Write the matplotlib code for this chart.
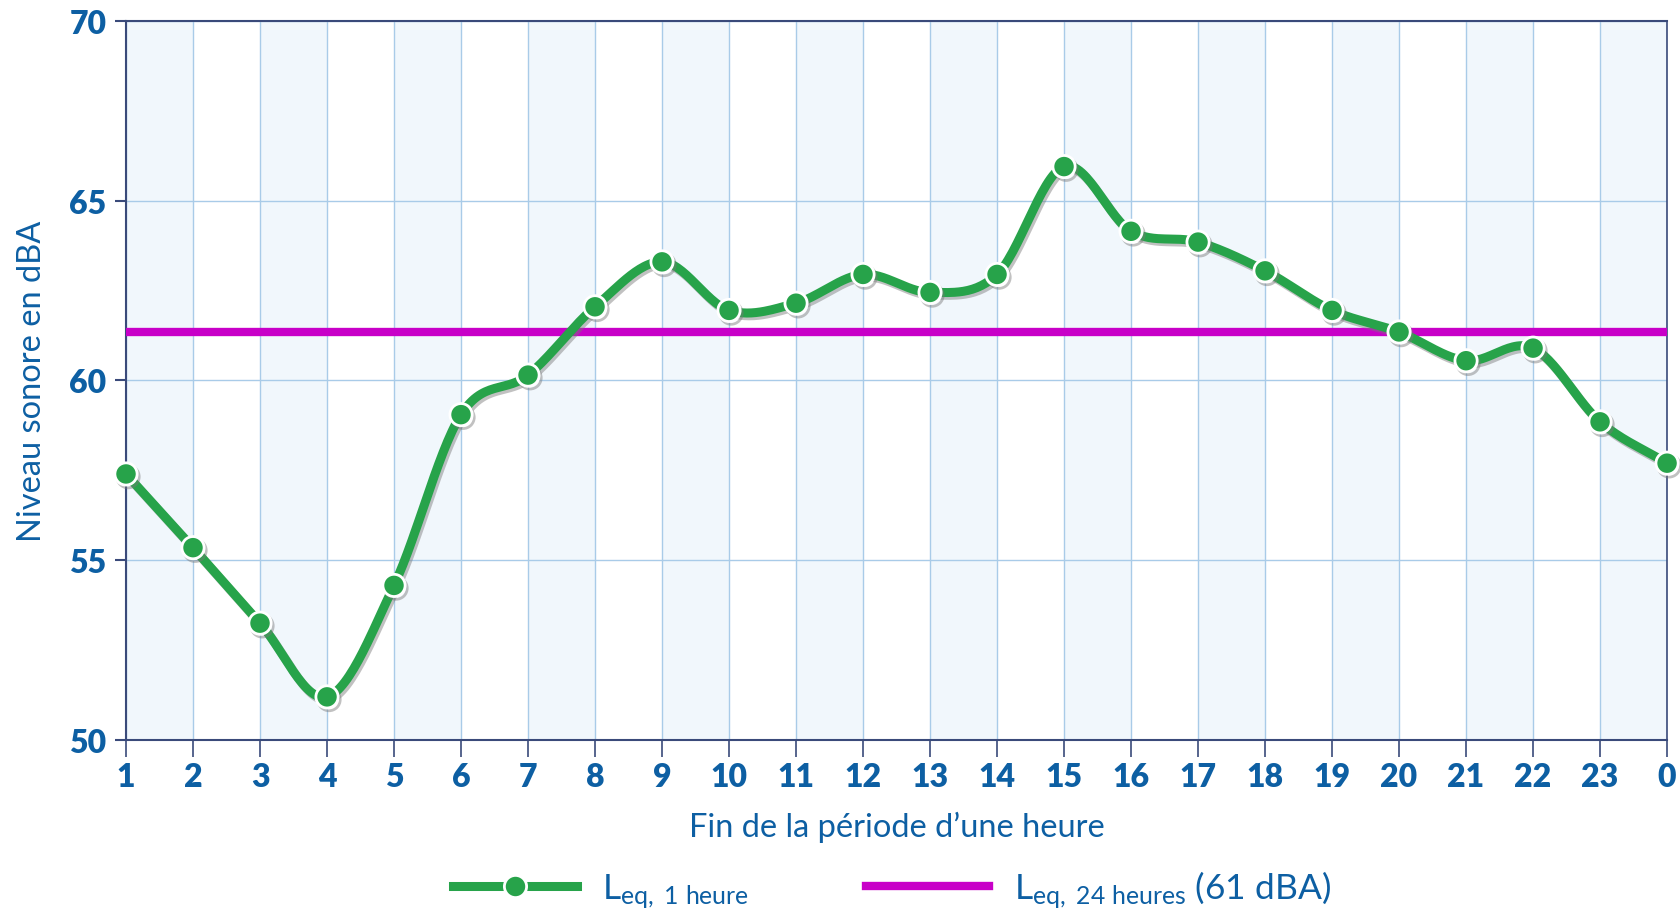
"""
Niveau sonore horaire (Leq 1 h) vs Leq 24 h.
"""
import numpy as np
import matplotlib
matplotlib.use("Agg")
import matplotlib.pyplot as plt
import matplotlib.patheffects as pe
from matplotlib.lines import Line2D

plt.rcParams["font.family"] = ["Lato", "DejaVu Sans"]
plt.rcParams["mathtext.fontset"] = "custom"
plt.rcParams["mathtext.rm"] = "Lato"
plt.rcParams["mathtext.it"] = "Lato"

hour_labels = ["1", "2", "3", "4", "5", "6", "7", "8", "9", "10", "11", "12",
               "13", "14", "15", "16", "17", "18", "19", "20", "21", "22", "23", "0"]
leq_1h = [57.4, 55.35, 53.25, 51.2, 54.3, 59.05, 60.15, 62.05, 63.3, 61.95, 62.15, 62.95,
          62.45, 62.95, 65.95, 64.15, 63.85, 63.05, 61.95, 61.35, 60.55, 60.9, 58.85, 57.7]
leq_24h = 61.35

BLUE = "#0d5fa3"
GREEN = "#27a34a"
PURPLE = "#c800c8"
AXIS = "#3a4a7a"
GRID = "#a9cbe8"


def smooth(x, y, n=30, tension=0.5):
    # cardinal spline through the points, just for drawing the curve
    x = np.asarray(x, float)
    y = np.asarray(y, float)
    xs, ys = [], []
    for i in range(len(x) - 1):
        y0 = y[i - 1] if i > 0 else y[i]
        y3 = y[i + 2] if i + 2 < len(y) else y[i + 1]
        m1 = tension * (y[i + 1] - y0) / (2 if i > 0 else 1)
        m2 = tension * (y3 - y[i]) / (2 if i + 2 < len(y) else 1)
        t = np.linspace(0, 1, n, endpoint=False)
        h00 = 2 * t**3 - 3 * t**2 + 1
        h10 = t**3 - 2 * t**2 + t
        h01 = -2 * t**3 + 3 * t**2
        h11 = t**3 - t**2
        xs.append(x[i] + t * (x[i + 1] - x[i]))
        ys.append(h00 * y[i] + h10 * m1 * 2 + h01 * y[i + 1] + h11 * m2 * 2)
    xs.append([x[-1]])
    ys.append([y[-1]])
    return np.concatenate(xs), np.concatenate(ys)


x = np.arange(1, len(hour_labels) + 1)

fig = plt.figure(figsize=(16.8, 9.12), dpi=100)
ax = fig.add_axes([0.075, 0.1875, 0.9173, 0.7884])

# alternating light-blue bands
for i in range(0, len(x) - 1, 2):
    ax.axvspan(x[i], x[i + 1], color="#f1f7fc", zorder=0, lw=0)

ax.set_xlim(x[0], x[-1])
ax.set_ylim(50, 70)
ax.set_xticks(x)
ax.set_xticklabels(hour_labels)
ax.set_yticks([50, 55, 60, 65, 70])
ax.grid(True, color=GRID, lw=1, zorder=1)

for s in ax.spines.values():
    s.set_color(AXIS)
    s.set_linewidth(1.5)
ax.spines["right"].set_linewidth(1.2)

ax.tick_params(axis="x", length=12, width=1.2, color=AXIS, pad=4,
               labelsize=23, labelcolor=BLUE)
ax.tick_params(axis="y", length=8, width=1.5, color=AXIS, pad=6,
               labelsize=23, labelcolor=BLUE)
for lbl in ax.get_xticklabels() + ax.get_yticklabels():
    lbl.set_fontweight("heavy")

ax.axhline(leq_24h, color=PURPLE, lw=6, zorder=3)

shadow = [pe.SimpleLineShadow(offset=(1.5, -2), shadow_color="#777777", alpha=0.45),
          pe.Normal()]
sx, sy = smooth(x, leq_1h)
ax.plot(sx, sy, color=GREEN, lw=6.5, solid_capstyle="round", zorder=4,
        path_effects=shadow)
ax.plot(x, leq_1h, ls="none", marker="o", ms=16, mfc=GREEN, mec="white", mew=2,
        zorder=5, clip_on=False,
        path_effects=[pe.SimpleLineShadow(offset=(1.5, -2), shadow_color="#777777",
                                          alpha=0.45), pe.Normal()])

ax.set_xlabel("Fin de la période d’une heure", fontsize=23.5, color=BLUE, labelpad=14)
ax.set_ylabel("Niveau sonore en dBA", fontsize=23.5, color=BLUE, labelpad=16)

handles = [
    Line2D([], [], color=GREEN, lw=6.5, marker="o", ms=16, mfc=GREEN, mec="white", mew=2),
    Line2D([], [], color=PURPLE, lw=6),
]
labels = [r"L$_{\mathrm{eq,\ 1\ heure}}$",
          r"L$_{\mathrm{eq,\ 24\ heures}}$ (61 dBA)"]
fig.legend(handles, labels, loc="center", bbox_to_anchor=(0.531, 0.024), ncol=2,
           frameon=False, fontsize=25.5, labelcolor=BLUE, handlelength=3.5,
           columnspacing=3.3, handletextpad=0.7)

fig.savefig("out.png", dpi=100)
